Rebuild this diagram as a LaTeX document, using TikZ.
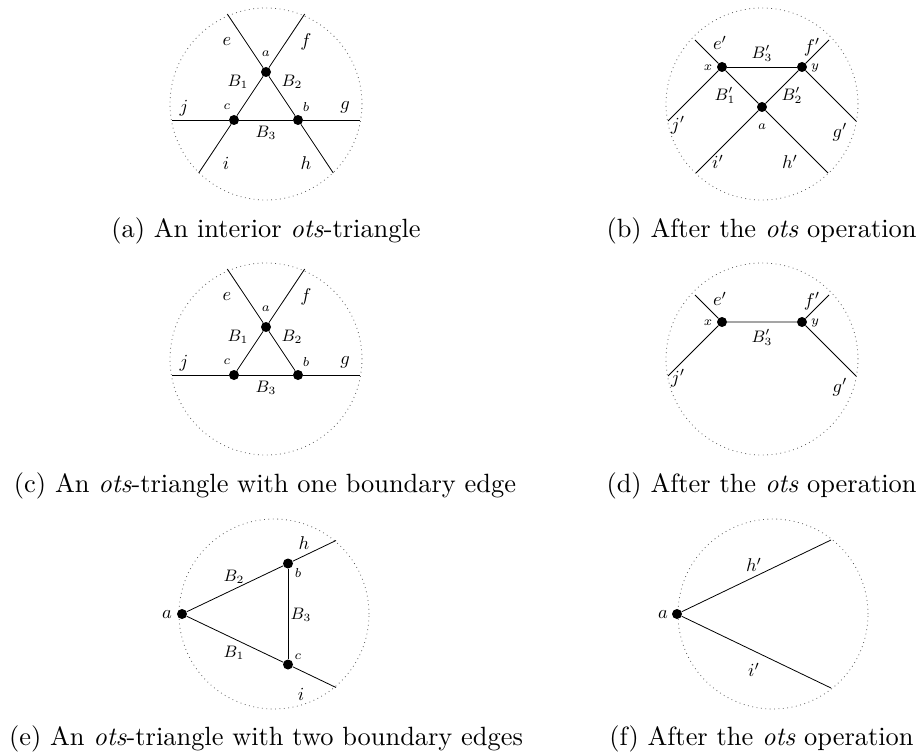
\documentclass[tikz,border=0pt]{standalone}
\newcommand{\sbx}[1]{\scalebox{1.848}{#1}}
\newcommand{\capt}[1]{\scalebox{2.64}{#1}}
\tikzset{
 vtx/.style={circle,fill=black,inner sep=0pt,minimum size=10pt},
 bnd/.style={draw=black!65,line width=0.8pt,dash pattern=on 0.8pt off 3.6pt},
 ln/.style={draw,line width=0.8pt},
 lbl/.style={inner sep=0pt},
 captext/.style={inner sep=0pt,anchor=base},
}
\begin{document}
\begin{tikzpicture}[x=1pt,y=-1pt]
\useasboundingbox (0,0) rectangle (920,754);
% ---------- (a)
\draw[bnd] (266,104) circle[radius=96pt];
\node[vtx] (Aa) at (266,72) {};
\node[vtx] (Ab) at (298,120) {};
\node[vtx] (Ac) at (234,120) {};
\coordinate (Ae) at (227.3,14);
\coordinate (Af) at (304.7,14);
\coordinate (Ah) at (333.3,173);
\coordinate (Ai) at (198.7,173);
\coordinate (Aj) at (172,120);
\coordinate (Ag) at (360,120);
\draw[ln] (Ae) -- (Aa) -- (Ab) -- (Ah);
\draw[ln] (Af) -- (Aa) -- (Ac) -- (Ai);
\draw[ln] (Aj) -- (Ac) -- (Ab) -- (Ag);
\node[lbl] (ALe) at (227,42) {\sbx{$e$}};
\node[lbl] (ALf) at (306,42) {\sbx{$f$}};
\node[lbl] (ALa) at (266,54) {\sbx{\scriptsize$a$}};
\node[lbl] (ALB1) at (238,82) {\sbx{\small$B_1$}};
\node[lbl] (ALB2) at (292,82) {\sbx{\small$B_2$}};
\node[lbl] (ALj) at (184,108) {\sbx{$j$}};
\node[lbl] (ALc) at (227,107) {\sbx{\scriptsize$c$}};
\node[lbl] (ALb) at (306,107) {\sbx{\scriptsize$b$}};
\node[lbl] (ALg) at (345,107) {\sbx{$g$}};
\node[lbl] (ALB3) at (266,133) {\sbx{\small$B_3$}};
\node[lbl] (ALi) at (226,163) {\sbx{$i$}};
\node[lbl] (ALh) at (306,163) {\sbx{$h$}};
\node[captext] (Acap) at (266,237) {\capt{(a) An interior \textit{ots}-triangle}};
% ---------- (b)
\draw[bnd] (762,104) circle[radius=96pt];
\node[vtx] (Bx) at (722,67) {};
\node[vtx] (By) at (802,67) {};
\node[vtx] (Ba) at (762,107) {};
\coordinate (Be) at (695,40);
\coordinate (Bf) at (829,40);
\coordinate (Bj) at (668,121);
\coordinate (Bg) at (856,121);
\coordinate (Bi) at (696,173);
\coordinate (Bh) at (828,173);
\draw[ln] (Be) -- (Bx) -- (Ba) -- (Bh);
\draw[ln] (Bf) -- (By) -- (Ba) -- (Bi);
\draw[ln] (Bx) -- (By);
\draw[ln] (Bj) -- (Bx);
\draw[ln] (By) -- (Bg);
\node[lbl] (BLe) at (720,43) {\sbx{$e'$}};
\node[lbl] (BLB3) at (762,53) {\sbx{\small$B_3'$}};
\node[lbl] (BLf) at (812,47) {\sbx{$f'$}};
\node[lbl] (BLx) at (708,68) {\sbx{\scriptsize$x$}};
\node[lbl] (BLy) at (815,68) {\sbx{\scriptsize$y$}};
\node[lbl] (BLB1) at (725,95) {\sbx{\small$B_1'$}};
\node[lbl] (BLB2) at (792,95) {\sbx{\small$B_2'$}};
\node[lbl] (BLa) at (762,127) {\sbx{\scriptsize$a$}};
\node[lbl] (BLj) at (678,125) {\sbx{$j'$}};
\node[lbl] (BLg) at (840,132) {\sbx{$g'$}};
\node[lbl] (BLi) at (718,162) {\sbx{$i'$}};
\node[lbl] (BLh) at (790,162) {\sbx{$h'$}};
\node[captext] (Bcap) at (761.5,237) {\capt{(b) After the \textit{ots} operation}};
% ---------- (c)
\draw[bnd] (266,359) circle[radius=96pt];
\node[vtx] (Ca) at (266,327) {};
\node[vtx] (Cb) at (298,375) {};
\node[vtx] (Cc) at (234,375) {};
\coordinate (Ce) at (227.3,269);
\coordinate (Cf) at (304.7,269);
\coordinate (Cj) at (172,375);
\coordinate (Cg) at (360,375);
\draw[ln] (Ce) -- (Ca) -- (Cb);
\draw[ln] (Cf) -- (Ca) -- (Cc);
\draw[ln] (Cj) -- (Cc) -- (Cb) -- (Cg);
\node[lbl] (CLe) at (227,297) {\sbx{$e$}};
\node[lbl] (CLf) at (306,297) {\sbx{$f$}};
\node[lbl] (CLa) at (266,309) {\sbx{\scriptsize$a$}};
\node[lbl] (CLB1) at (238,337) {\sbx{\small$B_1$}};
\node[lbl] (CLB2) at (292,337) {\sbx{\small$B_2$}};
\node[lbl] (CLj) at (184,363) {\sbx{$j$}};
\node[lbl] (CLc) at (227,362) {\sbx{\scriptsize$c$}};
\node[lbl] (CLb) at (306,362) {\sbx{\scriptsize$b$}};
\node[lbl] (CLg) at (345,362) {\sbx{$g$}};
\node[lbl] (CLB3) at (266,388) {\sbx{\small$B_3$}};
\node[captext] (Ccap) at (265,492) {\capt{(c) An \textit{ots}-triangle with one boundary edge}};
% ---------- (d)
\draw[bnd] (762,359) circle[radius=96pt];
\node[vtx] (Dx) at (722,322) {};
\node[vtx] (Dy) at (802,322) {};
\coordinate (De) at (695,295);
\coordinate (Df) at (829,295);
\coordinate (Dj) at (668,376);
\coordinate (Dg) at (856,376);
\draw[ln] (De) -- (Dx) -- (Dy) -- (Df);
\draw[ln] (Dj) -- (Dx);
\draw[ln] (Dy) -- (Dg);
\node[lbl] (DLe) at (720,299) {\sbx{$e'$}};
\node[lbl] (DLf) at (812,301) {\sbx{$f'$}};
\node[lbl] (DLx) at (708,323) {\sbx{\scriptsize$x$}};
\node[lbl] (DLy) at (815,323) {\sbx{\scriptsize$y$}};
\node[lbl] (DLB3) at (762,337) {\sbx{\small$B_3'$}};
\node[lbl] (DLj) at (678,378) {\sbx{$j'$}};
\node[lbl] (DLg) at (840,387) {\sbx{$g'$}};
\node[captext] (Dcap) at (761.5,492) {\capt{(d) After the \textit{ots} operation}};
% ---------- (e)
\draw[bnd] (274,614) circle[radius=95pt];
\node[vtx] (Ea) at (182,614) {};
\node[vtx] (Eb) at (288,563.5) {};
\node[vtx] (Ec) at (288,664.5) {};
\coordinate (Eh) at (336,540.5);
\coordinate (Ei) at (336,687.5);
\draw[ln] (Ea) -- (Eb) -- (Eh);
\draw[ln] (Ea) -- (Ec) -- (Ei);
\draw[ln] (Eb) -- (Ec);
\node[lbl] (ELh) at (304,543) {\sbx{$h$}};
\node[lbl] (ELb) at (298,573) {\sbx{\scriptsize$b$}};
\node[lbl] (ELB2) at (234,577) {\sbx{\small$B_2$}};
\node[lbl] (ELa) at (167,615) {\sbx{$a$}};
\node[lbl] (ELB3) at (301,615) {\sbx{\small$B_3$}};
\node[lbl] (ELB1) at (234,653) {\sbx{\small$B_1$}};
\node[lbl] (ELc) at (298,657) {\sbx{\scriptsize$c$}};
\node[lbl] (ELi) at (301,694) {\sbx{$i$}};
\node[captext] (Ecap) at (266,745) {\capt{(e) An \textit{ots}-triangle with two boundary edges}};
% ---------- (f)
\draw[bnd] (773,614) circle[radius=95pt];
\node[vtx] (Fa) at (677,614) {};
\coordinate (Fh) at (831,540);
\coordinate (Fi) at (831,688);
\draw[ln] (Fa) -- (Fh);
\draw[ln] (Fa) -- (Fi);
\node[lbl] (FLa) at (663,615) {\sbx{$a$}};
\node[lbl] (FLh) at (754,565) {\sbx{$h'$}};
\node[lbl] (FLi) at (754,670) {\sbx{$i'$}};
\node[captext] (Fcap) at (761.5,745) {\capt{(f) After the \textit{ots} operation}};
\end{tikzpicture}
\end{document}
